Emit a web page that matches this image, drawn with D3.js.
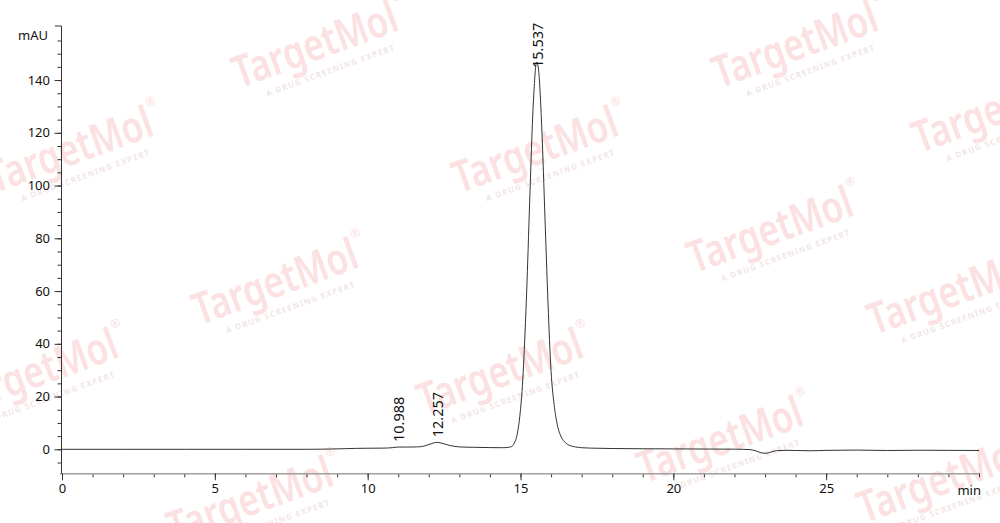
<!DOCTYPE html>
<html>
<head>
<meta charset="utf-8">
<script src="https://cdn.jsdelivr.net/npm/d3@7"></script>
<style>
  body { margin: 0; background: #fff; }
  svg { display: block; font-family: "Noto Sans", "Open Sans", sans-serif; }
</style>
</head>
<body>
<div id="wrapper"></div>
<script>
// chromatogram samples (time in min, signal in mAU)
const times = [0, 2, 4, 6, 8, 8.5, 9.0, 9.3, 9.6, 10.0, 10.5, 10.8, 10.988, 11.3, 11.6, 11.8, 11.95, 12.1, 12.257, 12.4, 12.55, 12.7, 12.85, 13.0, 13.5, 14.0, 14.4, 14.6, 14.7, 14.8, 14.9, 15.0, 15.05, 15.1, 15.2, 15.3, 15.4, 15.45, 15.5, 15.537, 15.6, 15.7, 15.8, 15.9, 16.0, 16.1, 16.2, 16.3, 16.4, 16.5, 16.6, 16.8, 17.0, 17.5, 18.0, 19.0, 20.0, 21.0, 22.0, 22.5, 22.7, 22.9, 23.05, 23.2, 23.4, 23.7, 24.0, 24.5, 25.0, 25.5, 26.0, 27.0, 28.0, 29.0, 30.0]
const mAU   = [0, 0, 0, 0, 0, 0.05, 0.15, 0.25, 0.35, 0.4, 0.45, 0.6, 0.85, 0.85, 0.9, 1.1, 1.6, 2.2, 2.65, 2.4, 1.9, 1.4, 1.1, 0.9, 0.75, 0.65, 0.6, 0.75, 1.0, 2.4, 6.2, 15.1, 22.0, 31.9, 59.2, 93.8, 126.5, 137.5, 145.4, 146.8, 142.8, 120.7, 88.1, 55.5, 29.5, 17.0, 9.5, 5.5, 3.4, 2.2, 1.5, 0.9, 0.6, 0.4, 0.3, 0.2, 0.15, 0.1, 0.05, -0.1, -0.6, -1.4, -1.5, -1.0, -0.5, -0.4, -0.45, -0.55, -0.4, -0.35, -0.3, -0.45, -0.35, -0.4, -0.45]

const peakTimes   = [10.988, 12.257, 15.537]
const peakHeights = [0.85, 2.65, 146.8]
const peakLabels  = ["10.988", "12.257", "15.537"]

const xTicksMajor = [0, 5, 10, 15, 20, 25]
const yTicksMajor = [0, 20, 40, 60, 80, 100, 120, 140]

// watermark anchors (centre of the logo text)
const markX = [315, 795, 70, 535, 770, 995, 275, 950, 35, 500, 720, 250, 940]
const markY = [45, 45, 150, 150, 230, 110, 282, 292, 372, 372, 440, 500, 480]

const dims = { width: 1000, height: 523, left: 62, right: 979, top: 26, bottom: 473.3 }

const svg = d3.select('#wrapper')
  .append('svg')
  .attr('width', dims.width)
  .attr('height', dims.height)

//! watermarks
const marks = svg.append('g')
markX.forEach((mx, i) => {
  const g = marks.append('g')
    .attr('transform', `translate(${mx},${markY[i]}) rotate(-20)`)
  g.append('text')
    .attr('x', 0).attr('y', 15)
    .attr('text-anchor', 'middle')
    .attr('font-size', 44)
    .attr('font-weight', 600)
    .attr('textLength', 172)
    .attr('lengthAdjust', 'spacingAndGlyphs')
    .attr('fill', '#fbe1e1')
    .text('TargetMol')
  g.append('text')
    .attr('x', 6).attr('y', 32)
    .attr('text-anchor', 'middle')
    .attr('font-size', 8)
    .attr('font-weight', 700)
    .attr('letter-spacing', 1.2)
    .attr('fill', '#f2e6e6')
    .text('A DRUG SCREENING EXPERT')
  g.append('text')
    .attr('x', 92).attr('y', -14)
    .attr('text-anchor', 'middle')
    .attr('font-size', 12)
    .attr('fill', '#fadede')
    .text('®')
})

//! scales
const xScale = d3.scaleLinear().domain([0, 30]).range([dims.left, dims.right])
const yScale = d3.scaleLinear().domain([-9.1, 160.5]).range([dims.bottom, dims.top])

//* x axis
const xAxisMinor = d3.axisBottom(xScale).ticks(30).tickSize(4).tickFormat('')
const xAxisMajor = d3.axisBottom(xScale).tickValues(xTicksMajor).tickSize(7).tickSizeOuter(0)
svg.append('g')
  .attr('transform', `translate(0,${dims.bottom})`)
  .call(xAxisMinor)
  .call(g => g.select('.domain').remove())
  .call(g => g.selectAll('line').attr('stroke', '#333'))
svg.append('g')
  .attr('transform', `translate(0,${dims.bottom})`)
  .call(xAxisMajor)
  .call(g => g.select('.domain').attr('stroke', '#a0a0a0').attr('stroke-width', 1.6)
    .attr('d', `M${dims.left - 2},0.5H${dims.right}`))
  .call(g => g.selectAll('line').attr('stroke', '#333'))
  .call(g => g.selectAll('text').attr('font-size', 13).attr('fill', '#111')
    .attr('font-family', '"Noto Sans", sans-serif').attr('y', 10))

//* y axis
const yAxisMinor = d3.axisLeft(yScale).tickValues(d3.range(-5, 160, 5)).tickSize(3.5).tickFormat('')
const yAxisMajor = d3.axisLeft(yScale).tickValues(yTicksMajor).tickSize(6.5).tickSizeOuter(0)
svg.append('g')
  .attr('transform', `translate(${dims.left - 1},0)`)
  .call(yAxisMinor)
  .call(g => g.select('.domain').remove())
  .call(g => g.selectAll('line').attr('stroke', '#333'))
svg.append('g')
  .attr('transform', `translate(${dims.left - 1},0)`)
  .call(yAxisMajor)
  .call(g => g.select('.domain').attr('stroke', '#333')
    .attr('d', `M-6,${dims.top}H0.5V${dims.bottom}`))
  .call(g => g.selectAll('line').attr('stroke', '#333'))
  .call(g => g.selectAll('text').attr('font-size', 13).attr('fill', '#111')
    .attr('font-family', '"Noto Sans", sans-serif').attr('x', -11))

//* axis titles
svg.append('text')
  .attr('x', 48).attr('y', 40)
  .attr('text-anchor', 'end')
  .attr('font-size', 13).attr('fill', '#111')
  .text('mAU')
svg.append('text')
  .attr('x', 981).attr('y', 495)
  .attr('text-anchor', 'end')
  .attr('font-size', 13).attr('fill', '#111')
  .text('min')

//! trace
const trace = times.map((t, i) => ({ t, v: mAU[i] }))
const line = d3.line()
  .x(d => xScale(d.t))
  .y(d => yScale(d.v))
  .curve(d3.curveMonotoneX)
svg.append('path')
  .datum(trace)
  .attr('d', line)
  .attr('fill', 'none')
  .attr('stroke', '#333')
  .attr('stroke-width', 1)

//! peak labels
peakTimes.forEach((pt, i) => {
  const px = xScale(pt) + 1
  let py = yScale(peakHeights[i]) - 5
  py = Math.max(py, 22 + 46)
  svg.append('text')
    .attr('transform', `translate(${px},${py}) rotate(-90)`)
    .attr('dy', '0.35em')
    .attr('font-size', 14.5)
    .attr('fill', '#111')
    .text(peakLabels[i])
})
</script>
</body>
</html>
